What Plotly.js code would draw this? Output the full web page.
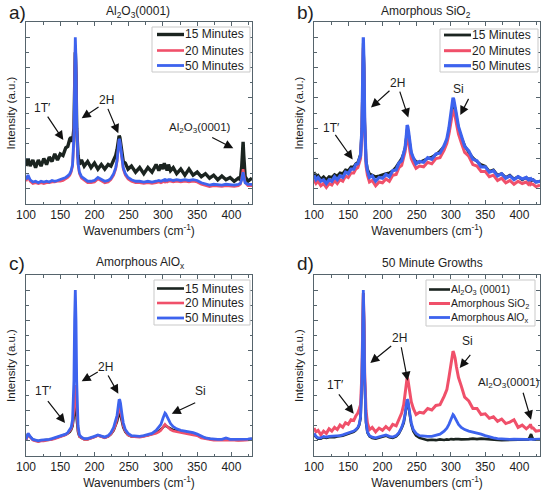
<!DOCTYPE html>
<html><head><meta charset="utf-8">
<script src="https://cdn.plot.ly/plotly-3.0.1.min.js"></script>
<style>html,body{margin:0;padding:0;background:#fff}#chart{width:543px;height:497px}</style>
</head><body><div id="chart"></div>
<script>
// Wavenumber grid (cm^-1), shared by all spectra
const wavenumbers = [100,103,106,110,114,118,122,126,130,134,
  138,142,146,150,154,158,161,164,166,168,
  170,171,172,173,174,176,178,181,185,190,
  195,200,205,210,215,220,224,228,231,233,
  235,236,237,238,240,242,245,249,254,260,
  266,272,278,284,290,294,297,300,302,303,
  304,306,308,311,315,320,326,332,338,344,
  350,356,362,368,374,380,386,392,398,404,
  410,413,415,416,417,418,420,424,430];

// a) Al2O3(0001)
const a_15min = [0.15,0.20,0.15,0.19,0.14,0.19,0.15,0.20,0.16,0.21,
  0.18,0.23,0.19,0.23,0.22,0.27,0.28,0.33,0.34,0.31,
  0.40,0.70,0.90,0.75,0.40,0.22,0.16,0.19,0.15,0.18,
  0.14,0.17,0.13,0.16,0.13,0.16,0.15,0.19,0.22,0.26,
  0.32,0.35,0.34,0.30,0.23,0.18,0.17,0.13,0.15,0.11,
  0.14,0.10,0.14,0.11,0.16,0.12,0.16,0.13,0.17,0.13,
  0.16,0.12,0.16,0.12,0.14,0.10,0.13,0.09,0.13,0.09,
  0.11,0.08,0.10,0.07,0.09,0.06,0.085,0.06,0.075,0.05,
  0.07,0.06,0.15,0.25,0.31,0.22,0.08,0.05,0.07];
const a_20min = [0.05,0.08,0.05,0.035,0.04,0.035,0.04,0.035,0.04,0.04,
  0.045,0.045,0.05,0.05,0.055,0.065,0.075,0.09,0.11,0.15,
  0.33,0.70,0.95,0.80,0.42,0.16,0.10,0.07,0.055,0.04,
  0.04,0.045,0.065,0.05,0.04,0.045,0.06,0.09,0.13,0.18,
  0.27,0.32,0.31,0.27,0.19,0.13,0.09,0.065,0.05,0.04,
  0.04,0.035,0.04,0.035,0.04,0.045,0.04,0.045,0.05,0.045,
  0.05,0.045,0.05,0.05,0.045,0.05,0.045,0.05,0.045,0.05,
  0.045,0.03,0.02,0.015,0.02,0.015,0.015,0.02,0.015,0.015,
  0.02,0.03,0.07,0.11,0.13,0.10,0.04,0.02,0.02];
const a_50min = [0.06,0.09,0.06,0.045,0.05,0.04,0.05,0.045,0.05,0.045,
  0.055,0.05,0.055,0.06,0.065,0.075,0.085,0.10,0.12,0.16,
  0.35,0.75,1.0,0.85,0.45,0.17,0.11,0.08,0.065,0.05,
  0.05,0.055,0.075,0.06,0.05,0.055,0.07,0.10,0.14,0.19,
  0.28,0.33,0.32,0.28,0.20,0.14,0.10,0.075,0.06,0.05,
  0.05,0.045,0.05,0.045,0.05,0.055,0.05,0.055,0.06,0.055,
  0.06,0.055,0.06,0.06,0.055,0.06,0.055,0.06,0.055,0.06,
  0.055,0.04,0.03,0.025,0.03,0.025,0.025,0.03,0.025,0.025,
  0.03,0.035,0.06,0.09,0.11,0.08,0.04,0.03,0.03];

// b) Amorphous SiO2
const b_15min = [0.11,0.08,0.09,0.065,0.08,0.06,0.08,0.075,0.095,0.085,
  0.105,0.10,0.125,0.12,0.145,0.145,0.165,0.175,0.20,0.23,
  0.40,0.75,0.96,0.80,0.44,0.19,0.13,0.10,0.09,0.08,
  0.085,0.095,0.10,0.105,0.12,0.145,0.17,0.20,0.235,0.27,
  0.34,0.39,0.38,0.36,0.29,0.235,0.20,0.18,0.175,0.19,
  0.20,0.21,0.225,0.25,0.28,0.32,0.38,0.47,0.54,0.57,
  0.56,0.53,0.47,0.40,0.34,0.285,0.24,0.205,0.18,0.16,
  0.15,0.115,0.125,0.09,0.10,0.075,0.09,0.065,0.08,0.06,
  0.075,0.06,0.07,0.055,0.065,0.055,0.06,0.045,0.05];
const b_20min = [0.06,0.035,0.05,0.02,0.035,0.01,0.035,0.025,0.055,0.035,
  0.06,0.05,0.085,0.075,0.105,0.105,0.13,0.14,0.17,0.20,
  0.37,0.72,0.93,0.76,0.42,0.15,0.09,0.045,0.055,0.02,
  0.045,0.04,0.065,0.05,0.09,0.095,0.14,0.155,0.205,0.245,
  0.31,0.345,0.34,0.32,0.25,0.20,0.17,0.135,0.15,0.145,
  0.175,0.165,0.20,0.205,0.255,0.30,0.36,0.44,0.50,0.52,
  0.51,0.48,0.43,0.36,0.305,0.24,0.215,0.16,0.15,0.115,
  0.115,0.08,0.09,0.055,0.07,0.04,0.055,0.03,0.05,0.035,
  0.045,0.03,0.04,0.03,0.035,0.03,0.03,0.015,0.025];
const b_50min = [0.09,0.06,0.075,0.05,0.06,0.035,0.06,0.05,0.08,0.06,
  0.085,0.075,0.11,0.10,0.13,0.13,0.16,0.165,0.195,0.22,
  0.40,0.78,1.0,0.82,0.45,0.18,0.12,0.075,0.085,0.05,
  0.075,0.07,0.095,0.08,0.12,0.125,0.17,0.185,0.235,0.27,
  0.36,0.42,0.41,0.38,0.30,0.24,0.205,0.165,0.18,0.175,
  0.205,0.195,0.23,0.235,0.285,0.33,0.40,0.50,0.57,0.60,
  0.59,0.55,0.49,0.41,0.35,0.28,0.25,0.195,0.185,0.145,
  0.145,0.11,0.12,0.085,0.10,0.07,0.085,0.06,0.08,0.065,
  0.075,0.06,0.065,0.06,0.065,0.06,0.06,0.045,0.05];

// c) Amorphous AlOx
const c_15min = [0.008,0.045,0.028,0.008,0.003,-0.002,0.003,0.003,0.008,0.008,
  0.012,0.017,0.022,0.027,0.032,0.042,0.05,0.06,0.075,0.10,
  0.17,0.27,0.31,0.26,0.15,0.06,0.03,0.02,0.012,0.012,
  0.017,0.027,0.037,0.027,0.022,0.03,0.045,0.07,0.10,0.13,
  0.17,0.19,0.185,0.17,0.13,0.09,0.06,0.04,0.03,0.028,
  0.028,0.033,0.038,0.045,0.055,0.065,0.075,0.09,0.10,0.10,
  0.10,0.095,0.09,0.08,0.072,0.068,0.062,0.058,0.052,0.048,
  0.04,0.025,0.018,0.012,0.008,0.008,0.008,0.012,0.008,0.008,
  0.006,0.008,0.008,0.01,0.008,0.01,0.008,0.01,0.012];
const c_20min = [0.005,0.04,0.025,0.005,0.0,-0.005,0.0,0.0,0.005,0.005,
  0.01,0.015,0.02,0.025,0.03,0.04,0.05,0.065,0.08,0.11,
  0.20,0.32,0.37,0.30,0.18,0.07,0.03,0.02,0.01,0.01,
  0.015,0.025,0.035,0.025,0.02,0.03,0.045,0.075,0.11,0.15,
  0.20,0.225,0.22,0.20,0.15,0.10,0.065,0.04,0.03,0.025,
  0.025,0.03,0.035,0.04,0.05,0.06,0.07,0.09,0.105,0.11,
  0.105,0.095,0.085,0.075,0.065,0.06,0.055,0.05,0.045,0.04,
  0.035,0.02,0.015,0.01,0.005,0.005,0.005,0.01,0.005,0.005,
  0.003,0.005,0.005,0.007,0.005,0.007,0.005,0.007,0.01];
const c_50min = [0.01,0.05,0.03,0.01,0.005,0.0,0.005,0.005,0.01,0.01,
  0.015,0.02,0.025,0.03,0.035,0.045,0.055,0.075,0.09,0.14,
  0.40,0.80,1.0,0.80,0.40,0.10,0.04,0.025,0.015,0.015,
  0.02,0.03,0.04,0.03,0.025,0.035,0.055,0.09,0.13,0.17,
  0.24,0.275,0.27,0.25,0.18,0.12,0.075,0.05,0.035,0.03,
  0.03,0.035,0.04,0.05,0.07,0.09,0.11,0.15,0.175,0.185,
  0.18,0.16,0.14,0.115,0.095,0.08,0.07,0.065,0.06,0.055,
  0.045,0.03,0.02,0.015,0.01,0.01,0.01,0.02,0.01,0.01,
  0.008,0.01,0.01,0.012,0.01,0.012,0.01,0.012,0.015];

// d) 50 minute growths
const d_Al2O3 = [0.045,0.025,0.015,0.015,0.025,0.02,0.025,0.025,0.025,0.03,
  0.03,0.035,0.04,0.045,0.05,0.06,0.07,0.085,0.105,0.15,
  0.40,0.78,0.98,0.78,0.40,0.12,0.055,0.03,0.02,0.015,
  0.02,0.025,0.035,0.025,0.02,0.03,0.05,0.085,0.12,0.17,
  0.235,0.265,0.26,0.235,0.17,0.11,0.065,0.035,0.02,0.01,
  0.005,0.008,0.005,0.01,0.006,0.01,0.008,0.012,0.01,0.012,
  0.01,0.012,0.01,0.012,0.01,0.013,0.012,0.015,0.012,0.015,
  0.012,0.01,0.008,0.006,0.005,0.005,0.005,0.006,0.005,0.005,
  0.006,0.01,0.025,0.04,0.045,0.03,0.01,0.008,0.008];
const d_SiO2 = [0.085,0.06,0.07,0.04,0.065,0.05,0.08,0.065,0.09,0.075,
  0.105,0.09,0.12,0.11,0.14,0.135,0.165,0.185,0.21,0.24,
  0.45,0.80,0.98,0.80,0.45,0.20,0.12,0.075,0.09,0.06,
  0.085,0.07,0.095,0.075,0.11,0.10,0.145,0.185,0.24,0.30,
  0.38,0.42,0.41,0.38,0.31,0.26,0.215,0.175,0.19,0.185,
  0.215,0.205,0.235,0.24,0.295,0.34,0.42,0.52,0.58,0.595,
  0.585,0.55,0.49,0.42,0.365,0.29,0.265,0.215,0.215,0.175,
  0.18,0.15,0.16,0.13,0.145,0.115,0.125,0.14,0.09,0.105,
  0.08,0.09,0.10,0.11,0.10,0.085,0.085,0.065,0.07];
const d_AlOx = [0.05,0.03,0.02,0.02,0.03,0.025,0.03,0.03,0.03,0.035,
  0.035,0.04,0.045,0.05,0.055,0.065,0.075,0.09,0.11,0.16,
  0.42,0.80,1.0,0.80,0.42,0.13,0.06,0.035,0.025,0.02,
  0.025,0.03,0.04,0.03,0.025,0.035,0.055,0.09,0.13,0.18,
  0.245,0.275,0.27,0.245,0.18,0.12,0.075,0.05,0.035,0.03,
  0.03,0.03,0.035,0.045,0.065,0.085,0.11,0.15,0.17,0.175,
  0.17,0.155,0.135,0.11,0.09,0.075,0.065,0.06,0.05,0.045,
  0.035,0.025,0.02,0.015,0.012,0.012,0.01,0.012,0.01,0.01,
  0.01,0.01,0.012,0.015,0.012,0.012,0.01,0.01,0.012];

const panelTitles = ['Al<sub>2</sub>O<sub>3</sub>(0001)','Amorphous SiO<sub>2</sub>','Amorphous AlO<sub>x</sub>','50 Minute Growths'];
const panelLetters = ['a)','b)','c)','d)'];
const timeNames = ['15 Minutes','20 Minutes','50 Minutes'];
const substrateNames = ['Al<sub>2</sub>O<sub>3</sub> (0001)','Amorphous SiO<sub>2</sub>','Amorphous AlO<sub>x</sub>'];
const xTickVals = [100,150,200,250,300,350,400];

const BLACK='#1b2420', RED='#f0506a', BLUE='#3d63ee';
const FRAME='#56646c', TXT='#1e1e1e';
const FONT='Arial, "Liberation Sans", sans-serif';
const W=543, H=497;
const px=(x)=>x/W, py=(y)=>1-y/H;

const panels = [
  {series:[a_15min,a_20min,a_50min], names:timeNames, widths:[3.4,2.6,2.8]},
  {series:[b_15min,b_20min,b_50min], names:timeNames, widths:[2.8,3,3.2]},
  {series:[c_15min,c_20min,c_50min], names:timeNames, widths:[2.6,2.6,2.8]},
  {series:[d_Al2O3,d_SiO2,d_AlOx], names:substrateNames, widths:[2.6,3,2.8]}
];
const colors=[BLACK,RED,BLUE];
const traces=[];
panels.forEach((p,i)=>{
  const sfx = i===0?'':String(i+1);
  p.series.forEach((ys,j)=>{
    traces.push({x:wavenumbers,y:ys,type:'scatter',mode:'lines',name:p.names[j],
      xaxis:'x'+sfx,yaxis:'y'+sfx,showlegend:false,
      line:{color:colors[j],width:p.widths[j]}});
  });
});

// plot areas in pixels [left,right,top,bottom]
const areas=[[26,252,22,204],[314,540,22,204],[26,252,275,456],[314,540,275,456]];

const layout={width:W,height:H,margin:{l:0,r:0,t:0,b:0},showlegend:false,
  paper_bgcolor:'#fff',plot_bgcolor:'#fff',font:{family:FONT,color:TXT,size:12},
  annotations:[],shapes:[]};

for(let i=0;i<4;i++){
  const sfx=i===0?'':String(i+1);
  const a=areas[i];
  layout['xaxis'+sfx]={domain:[px(a[0]),px(a[1])],anchor:'y'+sfx,range:[100,430],
    showline:true,linecolor:FRAME,linewidth:1,mirror:'allticks',
    ticks:'inside',ticklen:4,tickcolor:FRAME,tickvals:xTickVals,
    minor:{dtick:25,tick0:100,ticks:'inside',ticklen:2.5,tickcolor:FRAME},
    showgrid:false,zeroline:false,tickfont:{size:12,color:TXT},
    title:{text:'Wavenumbers (cm<sup>-1</sup>)',font:{size:12,color:TXT},standoff:5}};
  layout['yaxis'+sfx]={domain:[py(a[3]),py(a[2])],anchor:'x'+sfx,range:[-0.1,1.1],
    showline:true,linecolor:FRAME,linewidth:1,mirror:'allticks',
    ticks:'inside',ticklen:4,tickcolor:FRAME,tick0:0,dtick:0.2,
    minor:{dtick:0.1,tick0:0,ticks:'inside',ticklen:2.5,tickcolor:FRAME},
    showticklabels:false,showgrid:false,zeroline:false,
    title:{text:'Intensity (a.u.)',font:{size:11.5,color:TXT},standoff:6}};
}

// legend boxes (pixel geometry): box [x0,x1,y0,y1], key line [x0,x1], text x, row ys, font size
const legends=[
  {box:[152,250,27,72], key:[157,184], tx:185, rows:[34.5,50.5,65.5], fs:12},
  {box:[440,538,29,72], key:[444,471], tx:472, rows:[35,50.7,65.7], fs:12},
  {box:[154,250,280,325], key:[157,184], tx:185, rows:[288.5,303,318], fs:12},
  {box:[426,535,280,326], key:[429,450], tx:451, rows:[289.5,303.5,317.5], fs:10.5}
];
legends.forEach((L,i)=>{
  layout.shapes.push({type:'rect',xref:'paper',yref:'paper',layer:'above',
    x0:px(L.box[0]),x1:px(L.box[1]),y0:py(L.box[3]),y1:py(L.box[2]),
    line:{color:'#c9c9c9',width:1},fillcolor:'#ffffff'});
  panels[i].names.forEach((nm,j)=>{
    layout.shapes.push({type:'line',xref:'paper',yref:'paper',layer:'above',
      x0:px(L.key[0]),x1:px(L.key[1]),y0:py(L.rows[j]),y1:py(L.rows[j]),
      line:{color:colors[j],width:panels[i].widths[j]}});
    layout.annotations.push({xref:'paper',yref:'paper',x:px(L.tx),y:py(L.rows[j]),
      text:nm,showarrow:false,xanchor:'left',yanchor:'middle',borderpad:0,borderwidth:0,
      font:{size:L.fs,color:TXT}});
  });
});

// panel titles and letters (pixel centres)
const titlePos=[[138.4,11.7],[426,12.3],[140.8,262.7],[432.7,262.7]];
const letterPos=[[7,12],[295,12],[7,263.5],[295,263.5]];
for(let i=0;i<4;i++){
  layout.annotations.push({xref:'paper',yref:'paper',x:px(titlePos[i][0]),y:py(titlePos[i][1]),
    text:panelTitles[i],showarrow:false,xanchor:'center',yanchor:'middle',font:{size:12,color:TXT}});
  layout.annotations.push({xref:'paper',yref:'paper',x:px(letterPos[i][0]),y:py(letterPos[i][1]),
    text:panelLetters[i],showarrow:false,xanchor:'left',yanchor:'middle',font:{size:19,color:TXT}});
}

// peak labels (data coordinates, font size) and arrows [tipX, tipY, tailX, tailY]
const labels=[
  {p:0,items:[['1T′',124.8,0.531,12],['2H',217.8,0.585,12],['Al<sub>2</sub>O<sub>3</sub>(0001)',354,0.399,11.5]],
    arrows:[[154.5,0.322,130.2,0.486],[181.3,0.465,208.1,0.546],[234.8,0.366,218.7,0.537],[402.7,0.267,369.7,0.343]]},
  {p:1,items:[['1T′',125.8,0.399,12],['2H',221.2,0.699,12],['Si',311,0.66,12]],
    arrows:[[156.5,0.194,129.6,0.366],[183.2,0.537,212.4,0.656],[237.7,0.471,224.6,0.651],[313.6,0.486,326.8,0.603]]},
  {p:2,items:[['1T′',125.3,0.329,12],['2H',215.4,0.49,12],['Si',354.1,0.329,12]],
    arrows:[[157,0.119,130.2,0.273],[181.3,0.395,207,0.462],[234.8,0.313,218.7,0.444],[312.8,0.18,349.3,0.258]]},
  {p:3,items:[['1T′',132.1,0.373,12],['2H',224.6,0.682,12],['Si',324,0.665,12],['Al<sub>2</sub>O<sub>3</sub>(0001)',384,0.384,11.5]],
    arrows:[[158,0.18,134.6,0.318],[182.2,0.517,214.9,0.638],[236.8,0.399,227,0.631],[312.8,0.483,330,0.58],[416.9,0.141,404.7,0.329]]}
];
labels.forEach(L=>{
  const sfx=L.p===0?'':String(L.p+1);
  L.items.forEach(t=>layout.annotations.push({xref:'x'+sfx,yref:'y'+sfx,x:t[1],y:t[2],text:t[0],
    showarrow:false,xanchor:'center',yanchor:'middle',font:{size:t[3],color:TXT}}));
  L.arrows.forEach(a=>layout.annotations.push({xref:'x'+sfx,yref:'y'+sfx,axref:'x'+sfx,ayref:'y'+sfx,
    x:a[0],y:a[1],ax:a[2],ay:a[3],text:'',showarrow:true,arrowhead:2,arrowsize:1.5,arrowwidth:1.2,
    arrowcolor:'#111',standoff:0,startstandoff:0}));
});

Plotly.newPlot('chart',traces,layout,{displayModeBar:false,staticPlot:true});
</script></body></html>
